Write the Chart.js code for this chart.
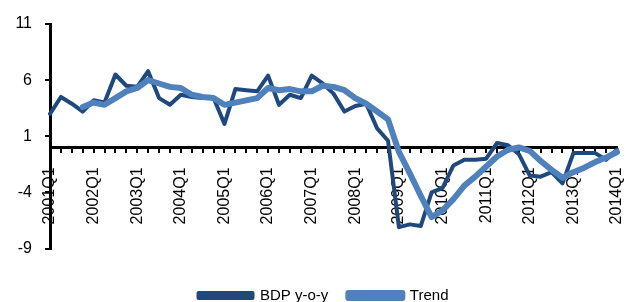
<!DOCTYPE html>
<html lang="en">
<head>
<meta charset="UTF-8">
<title>BDP y-o-y i trend</title>
<style>
  html, body { margin: 0; padding: 0; background: #fff; }
</style>
</head>
<body>
<canvas id="bdpChart" width="629" height="302"></canvas>

<script src="https://cdn.jsdelivr.net/npm/chart.js"></script>
<script>
// kvartali 2001Q1 - 2014Q1
const kvartali = [
  "2001Q1","2001Q2","2001Q3","2001Q4","2002Q1","2002Q2","2002Q3","2002Q4",
  "2003Q1","2003Q2","2003Q3","2003Q4","2004Q1","2004Q2","2004Q3","2004Q4",
  "2005Q1","2005Q2","2005Q3","2005Q4","2006Q1","2006Q2","2006Q3","2006Q4",
  "2007Q1","2007Q2","2007Q3","2007Q4","2008Q1","2008Q2","2008Q3","2008Q4",
  "2009Q1","2009Q2","2009Q3","2009Q4","2010Q1","2010Q2","2010Q3","2010Q4",
  "2011Q1","2011Q2","2011Q3","2011Q4","2012Q1","2012Q2","2012Q3","2012Q4",
  "2013Q1","2013Q2","2013Q3","2013Q4","2014Q1"
];

const bdpYoY = [
  3.0, 4.5, 3.9, 3.2, 4.2, 4.0, 6.5, 5.5,
  5.4, 6.8, 4.4, 3.8, 4.7, 4.5, 4.4, 4.4,
  2.1, 5.2, 5.1, 5.0, 6.4, 3.8, 4.7, 4.4,
  6.4, 5.7, 4.8, 3.2, 3.7, 3.9, 1.7, 0.6,
  -7.1, -6.85, -7.0, -4.0, -3.6, -1.6, -1.1, -1.1,
  -1.0, 0.4, 0.2, -0.6, -2.5, -2.6, -2.2, -3.2,
  -0.5, -0.5, -0.5, -1.1, -0.2
];

const trend = [
  null, null, null, 3.6, 4.0, 3.8, 4.4, 5.0,
  5.3, 6.0, 5.7, 5.4, 5.3, 4.7, 4.5, 4.4,
  3.8, 4.0, 4.2, 4.4, 5.3, 5.1, 5.2, 5.0,
  5.0, 5.5, 5.4, 5.1, 4.4, 3.9, 3.2, 2.5,
  -0.4, -2.3, -4.3, -6.2, -5.6, -4.6, -3.4, -2.6,
  -1.7, -0.8, -0.2, 0.0, -0.3, -1.2, -2.0, -2.7,
  -2.2, -1.8, -1.3, -0.9, -0.4
];

const yTicks = [11, 6, 1, -4, -9];

const font = "'Liberation Sans', Arial, sans-serif";

// legenda malo udesno, kao u originalu
const pomakniLegendu = {
  id: "pomakniLegendu",
  afterLayout(chart) {
    chart.legend.left += 15;
    chart.legend.right += 15;
  }
};

const bdpChart = new Chart(document.getElementById("bdpChart"), {
  type: "line",
  data: {
    labels: kvartali,
    datasets: [{
      label: "BDP y-o-y",
      data: bdpYoY,
      borderColor: "#1f497d",
      backgroundColor: "#1f497d",
      borderWidth: 4,
      pointRadius: 0,
      tension: 0,
      borderJoinStyle: "round",
      borderCapStyle: "round",
      order: 2
    }, {
      label: "Trend",
      data: trend,
      borderColor: "#4f81bd",
      backgroundColor: "#4f81bd",
      borderWidth: 6,
      pointRadius: 0,
      tension: 0,
      borderJoinStyle: "round",
      borderCapStyle: "round",
      order: 1
    }]
  },
  plugins: [pomakniLegendu],
  options: {
    responsive: false,
    animation: false,
    devicePixelRatio: 1,
    layout: { padding: { top: 24, right: 12, left: 0, bottom: -11 } },
    plugins: {
      tooltip: { enabled: false },
      legend: {
        position: "bottom",
        // prazan naslov samo da legenda sjedne nize
        title: { display: true, text: "", font: { size: 10 }, padding: { top: 0, bottom: 7.5 } },
        labels: {
          boxWidth: 54,
          boxHeight: 5,
          padding: 20,
          color: "#000",
          font: { family: font, size: 15 },
          sort: (a, b) => a.datasetIndex - b.datasetIndex
        }
      }
    },
    scales: {
      x: {
        position: { y: 0 },
        offset: false,
        afterFit: (scale) => { scale.paddingLeft = 0; scale.paddingRight = 0; },
        grid: {
          display: true,
          drawOnChartArea: false,
          drawTicks: true,
          tickLength: 4,
          color: "#000",
          lineWidth: 2
        },
        border: { display: true, color: "#000", width: 3 },
        ticks: {
          autoSkip: false,
          minRotation: 90,
          maxRotation: 90,
          padding: 16,
          color: "#000",
          font: { family: font, size: 16 },
          callback: function (val, i) {
            const l = kvartali[i];
            return l.endsWith("Q1") ? l : "";
          }
        }
      },
      y: {
        min: -9,
        max: 11,
        afterFit: (scale) => { scale.width = 50; },
        afterBuildTicks: (scale) => {
          scale.ticks = yTicks.map(v => ({ value: v }));
        },
        grid: {
          display: true,
          drawOnChartArea: false,
          drawTicks: true,
          tickLength: 5,
          color: "#000",
          lineWidth: 2
        },
        border: { display: true, color: "#000", width: 3 },
        ticks: {
          padding: 13,
          color: "#000",
          font: { family: font, size: 16 }
        }
      }
    }
  }
});
</script>
</body>
</html>
